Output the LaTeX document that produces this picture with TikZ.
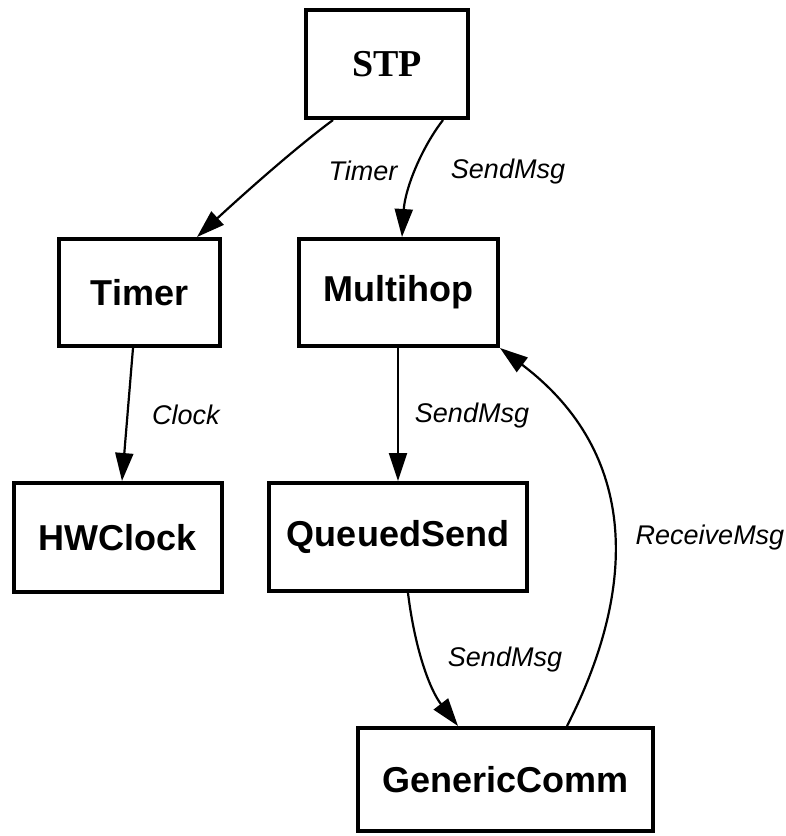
\documentclass[tikz,border=0pt]{standalone}
\usepackage{fontspec}
\setmainfont{Liberation Sans}
\newfontfamily\timesfont{Liberation Serif}
\usetikzlibrary{arrows.meta}
\begin{document}
\begin{tikzpicture}[x=1pt,y=-1pt,
  comp/.style={draw,line width=4pt,inner sep=0pt,font=\fontsize{36}{40}\selectfont\bfseries},
  wire/.style={line width=2.2pt,-{Triangle[length=28pt,width=18pt]}},
  iface/.style={font=\fontsize{27}{30}\selectfont\itshape}]
\useasboundingbox (0,0) rectangle (786,836);
% components
\node[comp,minimum width=162pt,minimum height=108pt,font=\fontsize{38}{42}\selectfont\timesfont\bfseries] (stp) at (387,64) {STP};
\node[comp,minimum width=161pt,minimum height=107pt] (timer) at (139.5,292.5) {Timer};
\node[comp,minimum width=199pt,minimum height=107pt] (multihop) at (398.5,292.5) {Multihop};
\node[comp,minimum width=208pt,minimum height=109pt] (hwclock) at (118,537.5) {HWClock};
\node[comp,minimum width=258pt,minimum height=108pt] (queued) at (398,537) {QueuedSend};
\node[comp,minimum width=295pt,minimum height=103pt] (generic) at (505.5,779.5) {GenericComm};
% interface wiring
\draw[wire] ([xshift=-54pt]stp.south) .. controls (290,152) and (235,202) .. ([xshift=57.5pt]timer.north);
\draw[wire] ([xshift=56pt]stp.south) .. controls (420,150) and (405,190) .. ([xshift=3.5pt]multihop.north);
\draw[wire] ([xshift=-6.5pt]timer.south) -- ([xshift=4pt]hwclock.north);
\draw[wire] ([xshift=-0.5pt]multihop.south) -- (queued.north);
\draw[wire] ([xshift=10pt]queued.south) .. controls (415,650) and (430,690) .. ([xshift=-47.5pt]generic.north);
\draw[wire] ([xshift=61.5pt]generic.north) .. controls (637,589) and (640,454) .. (multihop.south east);
% interface names
\node[iface] (l1) at (363,171) {Timer};
\node[iface] (l2) at (508,172) {SendMsg};
\node[iface] (l3) at (186,415) {Clock};
\node[iface] (l4) at (472,416) {SendMsg};
\node[iface] (l5) at (505,660) {SendMsg};
\node[iface] (l6) at (710,538) {ReceiveMsg};
\end{tikzpicture}
\end{document}
